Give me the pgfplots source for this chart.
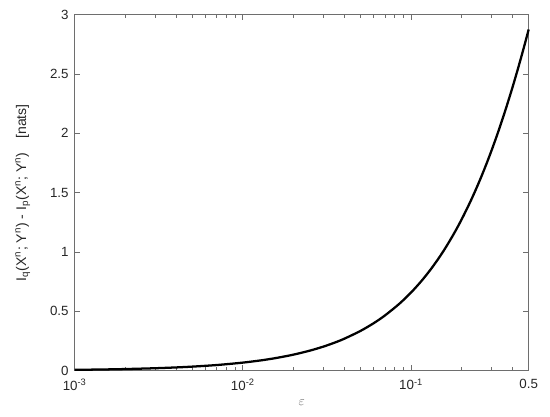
\documentclass[border=0pt]{standalone}
\usepackage{fontspec}
\setmainfont{Liberation Sans}
\usepackage{pgfplots}
\pgfplotsset{compat=1.18}

\definecolor{axgray}{RGB}{110,110,110}
\definecolor{txtgray}{RGB}{38,38,38}

\begin{document}
\begin{tikzpicture}
\begin{axis}[
    scale only axis,
    width=340.5pt,
    height=267pt,
    xmode=log,
    xmin=0.001, xmax=0.5,
    ymin=0, ymax=3,
    xtick={0.001,0.01,0.1,0.5},
    xticklabels={10\textsuperscript{-3},10\textsuperscript{-2},10\textsuperscript{-1},0.5},
    minor xtick={0.002,0.003,0.004,0.005,0.006,0.007,0.008,0.009,
                 0.02,0.03,0.04,0.05,0.06,0.07,0.08,0.09,0.2,0.3,0.4},
    ytick={0,0.5,1,1.5,2,2.5,3},
    yticklabels={0,0.5,1,1.5,2,2.5,3},
    tick pos=both,
    tick align=inside,
    major tick length=4pt,
    minor tick length=2.5pt,
    axis line style={axgray, line width=0.6pt},
    every tick/.style={axgray, line width=0.6pt},
    tick label style={font=\fontsize{10}{12}\selectfont, text=txtgray},
    xticklabel style={yshift=-2.5pt},
    yticklabel style={xshift=-1pt},
    /pgf/number format/assume math mode=true,
    xlabel={$\varepsilon$},
    xlabel style={text=axgray, font=\fontsize{10}{12}\selectfont, yshift=-0.5pt},
    ylabel={I\textsubscript{q}(X\textsuperscript{n}; Y\textsuperscript{n}) - I\textsubscript{p}(X\textsuperscript{n}; Y\textsuperscript{n})\quad [nats]},
    ylabel style={text=txtgray, font=\fontsize{10.5}{12}\selectfont, yshift=8pt},
    clip=false,
]
\addplot[black, line width=1.7pt, smooth] coordinates {
(0.001,0.0068) (0.0015,0.0102) (0.002,0.0136) (0.003,0.0204)
(0.004,0.0272) (0.005,0.0340) (0.007,0.0475) (0.01,0.0678)
(0.013,0.0880) (0.016,0.1083) (0.02,0.1352) (0.025,0.1687)
(0.03,0.2021) (0.035,0.2354) (0.04,0.2686) (0.05,0.3348)
(0.06,0.4004) (0.07,0.4657) (0.085,0.5628) (0.1,0.659)
(0.115,0.7542) (0.13,0.8485) (0.145,0.9418) (0.16,1.0342)
(0.18,1.1560) (0.2,1.276) (0.225,1.4237) (0.25,1.5688)
(0.275,1.7112) (0.3,1.851) (0.325,1.9882) (0.35,2.1228)
(0.375,2.2547) (0.4,2.384) (0.425,2.5107) (0.45,2.6348)
(0.475,2.7562) (0.5,2.875)
};
\end{axis}
\path (current axis.south west) +(-56pt,-34.5pt) (current axis.north east) +(16pt,11pt);
\end{tikzpicture}
\end{document}
